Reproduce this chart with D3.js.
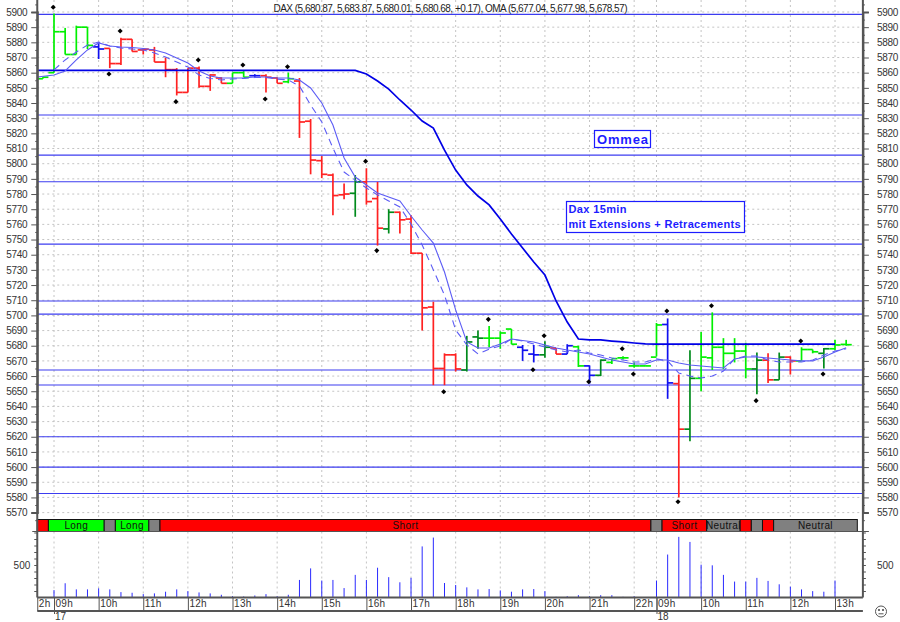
<!DOCTYPE html>
<html>
<head>
<meta charset="utf-8">
<script src="https://cdn.jsdelivr.net/npm/d3@7"></script>
<style>
  html, body { margin: 0; padding: 0; background: #fff; }
  svg { display: block; }
  text { font-family: "Liberation Sans", Arial, sans-serif; }
</style>
</head>
<body>
<div id="chart"></div>
<script>
// one entry per 15min bar, the first one is bar -1 (just before 09h on the 17th)
const barOpen = [5856,5860,5887,5872,5890,5877,5876,5866,5882,5875,5875,5867,5862,5847,5863,5851,5856.5,5853,5860,5858,5858,5856.5,5854,5854.5,5828,5802,5792.5,5779.5,5780.5,5788,5777,5757,5768,5763.5,5741,5705.5,5665,5674,5664,5685.8,5685,5685,5691,5679,5674.5,5674,5678.5,5674.5,5679.3,5666.7,5660.5,5669,5672,5666.7,5666.7,5672.5,5694,5655,5625,5658.5,5672,5679,5675,5676.5,5664.7,5670.5,5657.5,5672.5,5670,5677.5,5675,5678,5680.87];
const barHigh = [5857,5899,5889.5,5891,5890,5880,5876,5883,5882,5876,5877,5870,5863,5863,5864,5859,5857,5860,5861,5859,5859,5857,5860,5856.5,5829.5,5805,5793.5,5787,5792.5,5797,5788,5770,5768.5,5766,5741,5709,5675,5675,5686.5,5690,5693,5689.5,5691,5680.5,5680.5,5683,5678.5,5681,5680,5667,5671,5671.5,5673,5669,5667,5695,5698,5661,5677,5689,5702,5685,5685,5682,5675.5,5675,5675.5,5673,5679,5677.5,5678.5,5684,5683.87];
const barLow = [5856,5860,5872,5872,5875.6,5869,5863,5865,5874,5872,5867,5857,5845,5847,5850,5848,5853,5853,5857,5857,5847,5853,5853,5817,5793,5790.5,5766,5776.5,5765,5773,5746,5754,5754,5740.5,5690,5654,5654,5663,5663,5678,5679,5678,5681,5670,5669,5672,5674.5,5674.5,5666,5655,5660,5668,5671,5665.5,5666.5,5673,5645,5580,5617,5650,5664,5664.5,5669,5658.5,5648,5655.5,5657.5,5661,5670,5675,5665,5677,5680.01];
const barClose = [5857,5887,5872,5890,5878,5875.6,5866,5882,5874,5875.5,5867,5862,5847,5863,5851,5858.5,5853,5860,5857,5858,5857,5853,5856,5827.5,5802.4,5793,5779,5780,5788,5775,5757.5,5768,5763,5741,5705,5665,5674,5664.7,5682.5,5685,5685,5688.4,5681,5677,5674,5679,5674.5,5680,5666.7,5660.5,5670.5,5671.5,5672,5666.7,5666.7,5693.7,5655.5,5625,5658.5,5672.5,5679,5675,5676.5,5664.7,5670.5,5657.5,5672.5,5670,5677.5,5676,5678,5680.5,5680.68];
const barColor = ["g","g","g","g","g","b","r","r","r","r","r","r","r","r","r","r","r","g","g","b","r","r","g","r","r","r","r","r","d","r","r","d","r","r","r","r","r","r","d","d","g","g","g","b","b","d","r","b","g","b","d","g","g","g","g","g","b","r","d","g","g","g","g","g","d","r","d","r","g","g","d","g","g"];

const omaSlow = [5857.2,5858.5,5861.1,5868.4,5875,5879.6,5877.6,5876.9,5876.6,5875.9,5875,5873,5869.7,5866.4,5861.1,5857.8,5856.5,5856.5,5856.5,5857.2,5857.2,5856.5,5856.5,5855.2,5849.9,5840,5825.5,5803.8,5791.2,5786,5780.7,5778,5775.4,5765.5,5756.3,5747.7,5728.6,5703.6,5682.5,5678.5,5678.5,5681.1,5684.4,5683.4,5682.5,5680.5,5678.5,5677.2,5675.9,5674.6,5672.6,5670.6,5669.3,5668,5668,5670.6,5670.6,5668.6,5667.3,5666.6,5666,5665.3,5671.3,5672.6,5672.6,5671.9,5671.3,5670.6,5670,5670,5672.6,5675.9,5678.6];
const omaFast = [null,5861.8,5868.4,5873.6,5878.2,5880.2,5877.6,5876.3,5875.6,5875,5873,5870.3,5867,5863.7,5858.5,5856.2,5855.2,5855.8,5856.2,5856.8,5856.8,5855.8,5855.2,5851.2,5838.7,5827.5,5810.3,5794.5,5789.2,5784,5779.4,5775.4,5771.5,5760.2,5746.4,5730,5713.4,5690.4,5680.5,5674.6,5677.8,5679.8,5684.4,5683.1,5681.1,5679.2,5677.2,5675.9,5677.2,5675.2,5673.9,5671.9,5670.6,5669.3,5669.3,5671.3,5670,5662,5660,5658.7,5660,5663.3,5671.3,5673.2,5673.2,5670.6,5669.3,5669.3,5669.3,5670.6,5673.9,5676.5,5678];
const omaLong = [5861.5,5861.5,5861.5,5861.5,5861.5,5861.5,5861.5,5861.5,5861.5,5861.5,5861.5,5861.5,5861.5,5861.5,5861.5,5861.5,5861.5,5861.5,5861.5,5861.5,5861.5,5861.5,5861.5,5861.5,5861.5,5861.5,5861.5,5861.5,5861.5,5859.1,5854.5,5849.2,5842,5835.4,5828.1,5823.5,5809,5795.8,5786,5778.7,5772.8,5763.5,5753.7,5744.4,5735.2,5726.6,5709.5,5695.6,5684.4,5683.8,5683.8,5683.1,5682.5,5681.8,5681.2,5681,5681,5681,5681,5681,5681,5681,5681,5681,5681,5681,5681,5681,5681,5681,5681,5681,null];

const volume = [114,219,125,125,141,125,83,73,52,63,89,125,98,78,63,42,20,16,31,52,20,42,270,448,261,270,145,348,270,458,313,234,302,786,922,223,192,156,125,130,109,89,125,130,98,11,20,36,20,36,36,11,20,0,261,661,933,855,505,495,348,245,245,302,255,203,167,125,98,89,261,5];

const pivotBar = [0,6,5,11,13,17,19,21,28,29,35,39,44,43,48,51,52,55,59,56,63,67,69];
const pivotPrice = [5903.1,5887.5,5859.1,5840.9,5868.4,5865.1,5842.6,5863.9,5801.6,5742.7,5649.7,5697.4,5686.6,5664.2,5656.3,5678,5661.4,5702.9,5706.4,5577.2,5643.8,5683.1,5661.4];

const levels = [5898.5,5832.1,5805.7,5788.1,5747,5709.5,5700.9,5664,5654.1,5620,5600,5582.6];

const signalStart = [-1.5,-0.5,4.5,5.5,8.5,9.5,53.5,54.5,58.5,61.5,62.5,63.5,64.5];
const signalEnd = [-0.5,4.5,5.5,8.5,9.5,53.5,54.5,58.5,61.5,62.5,63.5,64.5,72];
const signalState = ["Short","Long","Neutral","Long","Neutral","Short","Neutral","Short","Neutral","Short","Neutral","Short","Neutral"];
const signalLabel = ["","Long","","Long","","Short","","Short","Neutral","","","","Neutral"];

const hourBars = [-1.5,0,4,8,12,16,20,24,28,32,36,40,44,48,52,54,58,62,66,70];
const hourLabels = ["2h","09h","10h","11h","12h","13h","14h","15h","16h","17h","18h","19h","20h","21h","22h","09h","10h","11h","12h","13h"];
const dayBars = [0,54];
const dayLabels = ["17","18"];

const title = "DAX (5,680.87, 5,683.87, 5,680.01, 5,680.68, +0.17), OMA (5,677.04, 5,677.98, 5,678.57)";

const barColors = {g: "#00f000", d: "#008a1c", r: "#ff2222", b: "#1010f0"};
const signalColors = {Short: "#ff0000", Long: "#00ff00", Neutral: "#808080"};
const axisColor = "#555";

const width = 900, height = 622;
const svg = d3.select("#chart").append("svg").attr("width", width).attr("height", height);

const x = d3.scaleLinear().domain([0, 70]).range([54, 835]);
const y = d3.scaleLinear().domain([5900, 5570]).range([12, 512.6]);
const yVol = d3.scaleLinear().domain([0, 500]).range([597.5, 565]);

const leftX = x(-1.5), rightX = x(72.5);
const bandTop = 519.5, bandBottom = 531.5, volBottom = 597.5, timeBottom = 611;

// grid
const priceTicks = d3.range(5570, 5901, 10);
const minorTicks = d3.range(5565, 5906, 5);
const gridHours = hourBars.slice(1);

svg.append("g").selectAll("line").data(priceTicks).join("line")
    .attr("x1", leftX).attr("x2", rightX)
    .attr("y1", d => y(d)).attr("y2", d => y(d))
    .attr("stroke", "#c4c4c4").attr("stroke-dasharray", "2,3");

svg.append("g").selectAll("line").data(gridHours).join("line")
    .attr("x1", d => x(d)).attr("x2", d => x(d))
    .attr("y1", 0).attr("y2", bandTop)
    .attr("stroke", "#c4c4c4").attr("stroke-dasharray", "2,3");

svg.append("g").selectAll("line").data(gridHours).join("line")
    .attr("x1", d => x(d)).attr("x2", d => x(d))
    .attr("y1", bandBottom).attr("y2", volBottom)
    .attr("stroke", "#c4c4c4").attr("stroke-dasharray", "2,3");

// extension + retracement levels
svg.append("g").selectAll("line").data(levels).join("line")
    .attr("x1", leftX).attr("x2", rightX)
    .attr("y1", d => y(d)).attr("y2", d => y(d))
    .attr("stroke", "#3c3cf0").attr("stroke-width", 1.2);

// volume
svg.append("g").selectAll("line").data(volume).join("line")
    .attr("x1", (d, i) => x(i)).attr("x2", (d, i) => x(i))
    .attr("y1", d => yVol(d)).attr("y2", volBottom)
    .attr("stroke", "#2a2aff").attr("stroke-width", 1);

// open/high/low/close bars
const bars = svg.append("g").selectAll("g").data(barOpen).join("g")
    .attr("stroke", (d, i) => barColors[barColor[i]])
    .attr("stroke-width", 1.7);
bars.append("line")
    .attr("x1", (d, i) => x(i - 1)).attr("x2", (d, i) => x(i - 1))
    .attr("y1", (d, i) => y(barHigh[i])).attr("y2", (d, i) => y(barLow[i]));
bars.append("line")
    .attr("x1", (d, i) => x(i - 1.5)).attr("x2", (d, i) => x(i - 1))
    .attr("y1", (d, i) => y(barOpen[i])).attr("y2", (d, i) => y(barOpen[i]));
bars.append("line")
    .attr("x1", (d, i) => x(i - 1)).attr("x2", (d, i) => x(i - 0.5))
    .attr("y1", (d, i) => y(barClose[i])).attr("y2", (d, i) => y(barClose[i]));

// OMA lines, the first point sits on the left axis
const omaLine = d3.line()
    .defined(d => d !== null)
    .x((d, i) => x(i === 0 ? -1.5 : i - 1))
    .y(d => y(d));

svg.append("path").datum(omaLong).attr("d", omaLine)
    .attr("fill", "none").attr("stroke", "#0000e6").attr("stroke-width", 1.7);
svg.append("path").datum(omaSlow).attr("d", omaLine)
    .attr("fill", "none").attr("stroke", "#5c5cf5").attr("stroke-width", 1.1);
svg.append("path").datum(omaFast).attr("d", omaLine)
    .attr("fill", "none").attr("stroke", "#5c5cf5").attr("stroke-width", 1.1)
    .attr("stroke-dasharray", "7,5");

// swing points
svg.append("g").selectAll("path").data(pivotBar).join("path")
    .attr("d", d3.symbol().type(d3.symbolSquare).size(13))
    .attr("transform", (d, i) => `translate(${x(d) - 0.8},${y(pivotPrice[i])}) rotate(45)`)
    .attr("fill", "#000");

// signal band
const band = svg.append("g").selectAll("g").data(signalState).join("g");
band.append("rect")
    .attr("x", (d, i) => x(signalStart[i]))
    .attr("width", (d, i) => x(signalEnd[i]) - x(signalStart[i]))
    .attr("y", bandTop).attr("height", bandBottom - bandTop)
    .attr("fill", d => signalColors[d])
    .attr("stroke", "#111").attr("stroke-width", 1);
band.append("text")
    .attr("x", (d, i) => (x(signalStart[i]) + x(signalEnd[i])) / 2)
    .attr("y", 529)
    .attr("text-anchor", "middle")
    .attr("font-size", 10).attr("letter-spacing", 0.4)
    .attr("fill", "#111")
    .text((d, i) => signalLabel[i]);

// axes
function styleAxis(g) {
  g.select(".domain").attr("stroke", axisColor).attr("stroke-width", 2);
  g.selectAll(".tick line").attr("stroke", axisColor);
  g.selectAll(".tick text")
    .attr("font-family", '"Liberation Sans", Arial, sans-serif')
    .attr("font-size", 10).attr("fill", "#333");
}

const priceFmt = d3.format("d");
svg.append("g").attr("transform", `translate(${leftX},0)`)
    .call(d3.axisLeft(y).tickValues(priceTicks).tickFormat(priceFmt).tickSize(6).tickPadding(4))
    .call(styleAxis)
    .selectAll(".tick text").attr("letter-spacing", -0.3);
svg.append("g").attr("transform", `translate(${rightX},0)`)
    .call(d3.axisRight(y).tickValues(priceTicks).tickFormat(priceFmt).tickSize(6).tickPadding(8))
    .call(styleAxis)
    .selectAll(".tick text").attr("letter-spacing", -0.3);

const minorLeft = d3.axisLeft(y).tickValues(minorTicks.filter(d => d % 10)).tickFormat("").tickSize(2);
const minorRight = d3.axisRight(y).tickValues(minorTicks.filter(d => d % 10)).tickFormat("").tickSize(2);
svg.append("g").attr("transform", `translate(${leftX},0)`).call(minorLeft).call(styleAxis).select(".domain").remove();
svg.append("g").attr("transform", `translate(${rightX},0)`).call(minorRight).call(styleAxis).select(".domain").remove();

// price axis lines run right up to the top edge and down to the band
svg.selectAll(".axisEnd").data([leftX, rightX]).join("line")
    .attr("x1", d => d).attr("x2", d => d).attr("y1", 0).attr("y2", volBottom)
    .attr("stroke", axisColor).attr("stroke-width", 2);

// volume axes
const volTicks = d3.range(100, 1001, 100);
const volLeft = d3.axisLeft(yVol).tickValues(volTicks).tickFormat(d => d === 500 ? "500" : "").tickSize(3).tickPadding(4);
const volRight = d3.axisRight(yVol).tickValues(volTicks).tickFormat(d => d === 500 ? "500" : "").tickSize(3).tickPadding(11);
svg.append("g").attr("transform", `translate(${leftX},0)`).call(volLeft).call(styleAxis).select(".domain").remove();
svg.append("g").attr("transform", `translate(${rightX},0)`).call(volRight).call(styleAxis).select(".domain").remove();

svg.append("line").attr("x1", leftX - 5).attr("x2", rightX + 6)
    .attr("y1", bandBottom).attr("y2", bandBottom).attr("stroke", axisColor).attr("stroke-width", 1.2);

// time axis
svg.append("line").attr("x1", leftX).attr("x2", rightX).attr("y1", volBottom).attr("y2", volBottom)
    .attr("stroke", axisColor).attr("stroke-width", 2);
svg.append("line").attr("x1", leftX).attr("x2", rightX).attr("y1", timeBottom).attr("y2", timeBottom)
    .attr("stroke", axisColor).attr("stroke-width", 2);

const timeAxis = d3.axisBottom(x).tickValues(hourBars).tickFormat((d, i) => hourLabels[i]).tickSize(timeBottom - volBottom);
const timeG = svg.append("g").attr("transform", `translate(0,${volBottom})`).call(timeAxis).call(styleAxis);
timeG.select(".domain").remove();
timeG.selectAll(".tick text").attr("text-anchor", "start").attr("x", 1).attr("y", 2).attr("dy", "0.71em").attr("letter-spacing", 0.3);

const dayAxis = d3.axisBottom(x).tickValues(dayBars).tickFormat((d, i) => dayLabels[i]).tickSize(timeBottom - volBottom + 3);
const dayG = svg.append("g").attr("transform", `translate(0,${volBottom})`).call(dayAxis).call(styleAxis);
dayG.select(".domain").remove();
dayG.selectAll(".tick text").attr("text-anchor", "start").attr("x", 0.5).attr("y", 15.5).attr("dy", "0.71em");

// header + notes
svg.append("text").attr("x", 273.5).attr("y", 11.5)
    .attr("font-size", 10).attr("fill", "#222")
    .attr("textLength", 354).attr("lengthAdjust", "spacing")
    .text(title);

const noteBlue = "#1c1cff";
svg.append("rect").attr("x", 594.5).attr("y", 130.5).attr("width", 56).attr("height", 17)
    .attr("fill", "#fff").attr("stroke", noteBlue).attr("stroke-width", 1.2);
svg.append("text").attr("x", 597).attr("y", 144)
    .attr("font-size", 13).attr("font-weight", "bold").attr("fill", noteBlue)
    .attr("textLength", 51).attr("lengthAdjust", "spacing")
    .text("Ommea");

svg.append("rect").attr("x", 566.5).attr("y", 201.5).attr("width", 178).attr("height", 31)
    .attr("fill", "#fff").attr("stroke", noteBlue).attr("stroke-width", 1.2);
svg.append("text").attr("x", 568.5).attr("y", 212.5)
    .attr("font-size", 11).attr("font-weight", "bold").attr("fill", noteBlue)
    .attr("textLength", 58).attr("lengthAdjust", "spacing")
    .text("Dax 15min");
svg.append("text").attr("x", 568.5).attr("y", 227.5)
    .attr("font-size", 11).attr("font-weight", "bold").attr("fill", noteBlue)
    .attr("textLength", 172).attr("lengthAdjust", "spacing")
    .text("mit Extensions + Retracements");

// neutral face, bottom right
const face = svg.append("g").attr("transform", "translate(881,611.5)")
    .attr("fill", "none").attr("stroke", "#555");
face.append("circle").attr("r", 5.5);
face.append("line").attr("x1", -2.5).attr("x2", 2.5).attr("y1", 2.3).attr("y2", 2.3);
face.append("circle").attr("cx", -2).attr("cy", -1.5).attr("r", 0.7).attr("fill", "#555");
face.append("circle").attr("cx", 2).attr("cy", -1.5).attr("r", 0.7).attr("fill", "#555");
</script>
</body>
</html>
